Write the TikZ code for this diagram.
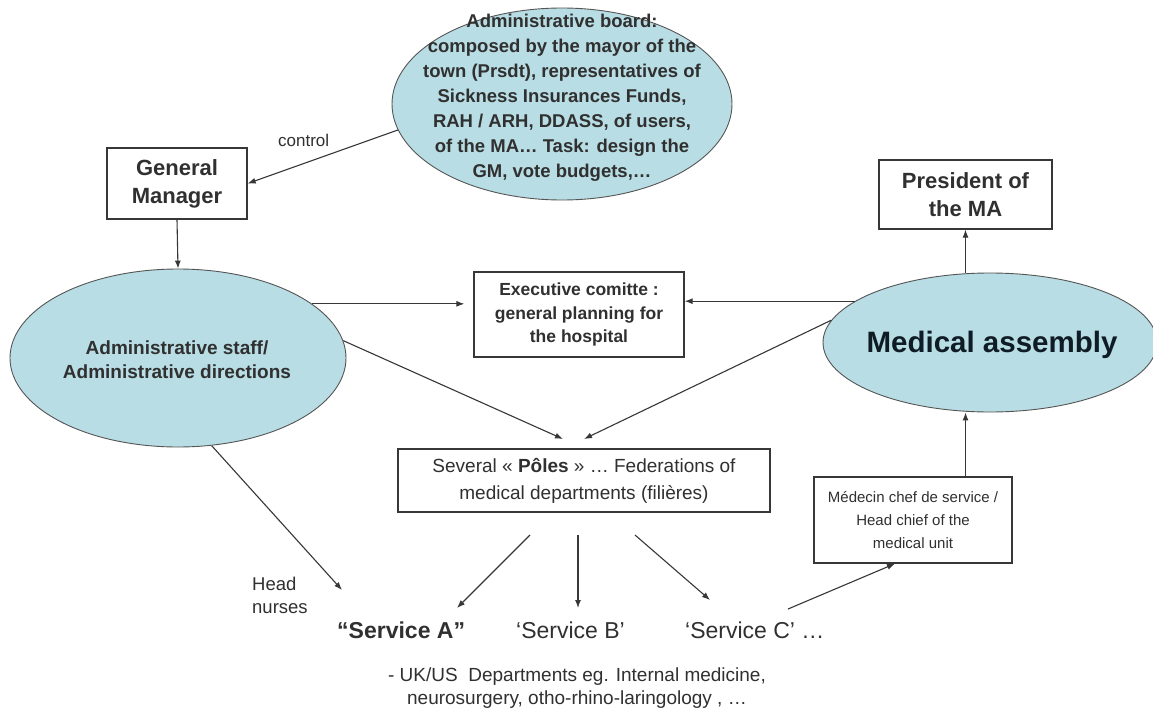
\documentclass[tikz,border=0pt]{standalone}
\usepackage{fontspec}
\setmainfont{Liberation Sans}
\usetikzlibrary{arrows.meta,shapes.geometric,calc}
\definecolor{ellfill}{RGB}{184,221,228}
\definecolor{lin}{RGB}{55,55,55}
\definecolor{txt}{RGB}{48,48,48}
\definecolor{matxt}{RGB}{15,28,38}
\begin{document}
\begin{tikzpicture}[x=1pt,y=-1pt,
  arr/.style={draw=lin,line width=1.1pt,-{Latex[length=8pt,width=6pt]}},
  box/.style={draw=lin,line width=1.3pt,fill=white,inner sep=0pt,align=center,text=txt},
  ell/.style={ellipse,draw=lin!85,line width=0.9pt,fill=ellfill,inner sep=0pt},
  lbl/.style={inner sep=0pt,text=txt,align=center}]
\useasboundingbox (0,0) rectangle (1153,709);
\fill[white] (0,0) rectangle (1153,709);

% ellipses
\node[ell,minimum width=340pt,minimum height=192pt] (board) at (562,104) {};
\node[lbl,font=\fontsize{18.5}{25}\selectfont\bfseries] (boardtxt) at (562,98)
  {Administrative board:\\composed by the mayor of the\\town (Prsdt), representatives of\\Sickness Insurances Funds,\\RAH / ARH, DDASS, of users,\\of the MA\ldots\ Task: design the\\GM, vote budgets,\ldots};
\node[ell,minimum width=336pt,minimum height=178pt] (adm) at (178,358) {};
\node[lbl,font=\fontsize{19}{24}\selectfont\bfseries] (admtxt) at (177,360)
  {Administrative staff/\\Administrative directions};
\node[ell,minimum width=334pt,minimum height=139pt] (ma) at (990,342.5) {};
\node[lbl,font=\fontsize{29.5}{34}\selectfont\bfseries,text=matxt] (matxt) at (992,345) {Medical assembly};

% boxes
\node[box,minimum width=140pt,minimum height=71pt,font=\fontsize{22}{28}\selectfont\bfseries] (gm) at (177,183.5) {General\\Manager};
\node[box,minimum width=173pt,minimum height=69pt,font=\fontsize{22}{28}\selectfont\bfseries] (pres) at (965.5,194.5) {President of\\the MA};
\node[box,minimum width=210pt,minimum height=85pt,font=\fontsize{17.5}{23.5}\selectfont\bfseries] (exec) at (579,314.5) {Executive comitte :\\general planning for\\the hospital};
\node[box,minimum width=372pt,minimum height=63pt,font=\fontsize{19}{27}\selectfont] (poles) at (584,480.5) {Several « \textbf{Pôles} » … Federations of\\medical departments (filières)};
\node[box,minimum width=198pt,minimum height=86pt,font=\fontsize{15}{23}\selectfont] (med) at (913,520) {Médecin chef de service /\\Head chief of the\\medical unit};

% labels
\node[lbl,anchor=west,font=\fontsize{17}{20}\selectfont] (ctl) at (278,140) {control};
\node[lbl,anchor=west,align=left,font=\fontsize{18.5}{23}\selectfont] (hn) at (252,595) {Head\\nurses};
\node[lbl,anchor=west,font=\fontsize{23}{27}\selectfont\bfseries] (sa) at (337,630) {“Service A”};
\node[lbl,anchor=west,font=\fontsize{23}{27}\selectfont] (sb) at (516,630) {‘Service B’};
\node[lbl,anchor=west,font=\fontsize{23}{27}\selectfont] (sc) at (685,630) {‘Service C’ …};
\node[lbl,font=\fontsize{19}{23}\selectfont] (uk) at (577,688) {- UK/US\ \ Departments eg. Internal medicine,\\neurosurgery, otho-rhino-laringology , …};

% connector end points
\coordinate (p1) at (563,439);
\coordinate (p2) at (584,439);
\coordinate (hnend) at (342,590);
\coordinate (q1) at (530,535);
\coordinate (q2) at (578,535);
\coordinate (q3) at (635,535);
\coordinate (ea) at (457,608);
\coordinate (eb) at (578,608);
\coordinate (ec) at (710,600);
\coordinate (cstart) at (788,609);

% connectors
\draw[arr] (board.189) -- (gm.east);
\draw[arr] (gm.south) -- (adm.north);
\draw[arr,shorten >=9pt] (adm.22) -- (adm.22 -| exec.west);
\draw[arr] (ma.163) -- (ma.163 -| exec.east);
\draw[arr] (adm.6) -- (p1);
\draw[arr] (ma.172) -- (p2);
\draw[arr] (adm.-69) -- (hnend);
\draw[arr] (pres.south |- ma.north) -- (pres.south);
\draw[arr] (med.north -| pres.south) -- (pres.south |- ma.south);
\draw[arr] (q1) -- (ea);
\draw[arr] (q2) -- (eb);
\draw[arr] (q3) -- (ec);
\draw[arr] (cstart) -- ([xshift=-18pt]med.south);
\end{tikzpicture}
\end{document}
